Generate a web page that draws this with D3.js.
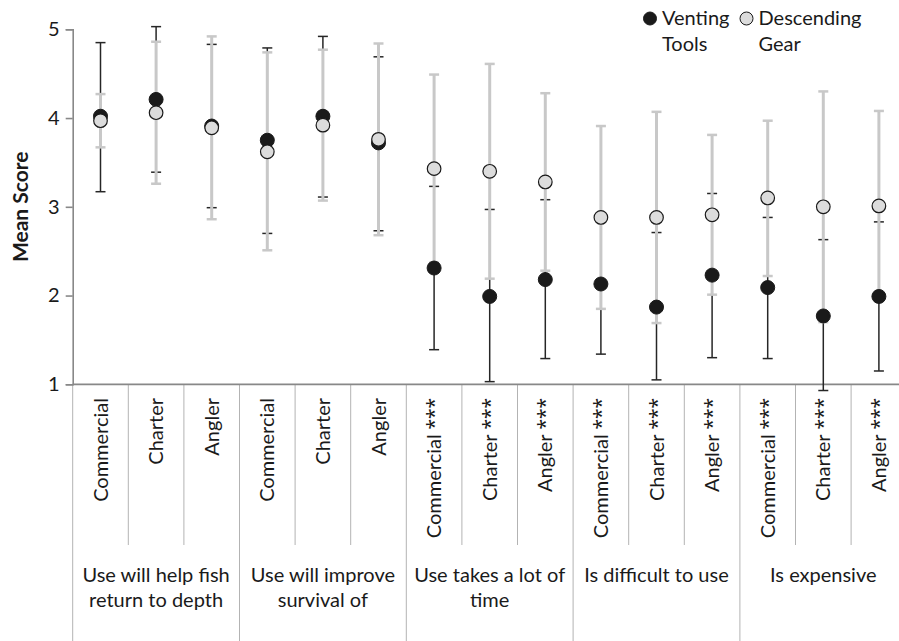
<!DOCTYPE html>
<html><head><meta charset="utf-8">
<script src="https://cdn.jsdelivr.net/npm/d3@7"></script>
<style>body{margin:0;background:#fff}svg{display:block}text{font-family:Lato,"Open Sans",sans-serif;fill:#1a1a1a}</style>
</head><body><svg id="c" width="899" height="641"></svg>
<script>
const groupLabels = [["Use will help fish","return to depth"],["Use will improve","survival of"],["Use takes a lot of","time"],["Is difficult to use"],["Is expensive"]];
const categories = ["Commercial","Charter","Angler","Commercial","Charter","Angler","Commercial ***","Charter ***","Angler ***","Commercial ***","Charter ***","Angler ***","Commercial ***","Charter ***","Angler ***"];
const ventMean = [4.02,4.21,3.91,3.75,4.02,3.72,2.31,1.99,2.18,2.13,1.87,2.23,2.09,1.77,1.99];
const ventLow  = [3.17,3.39,2.99,2.70,3.11,2.73,1.39,1.03,1.29,1.34,1.05,1.30,1.29,0.93,1.15];
const ventHigh = [4.85,5.03,4.83,4.79,4.92,4.69,3.23,2.97,3.08,2.90,2.71,3.15,2.88,2.63,2.83];
const descMean = [3.97,4.06,3.89,3.62,3.92,3.76,3.43,3.40,3.28,2.88,2.88,2.91,3.10,3.00,3.01];
const descLow  = [3.67,3.26,2.86,2.51,3.07,2.68,2.37,2.19,2.28,1.85,1.69,2.01,2.22,1.70,1.94];
const descHigh = [4.27,4.86,4.92,4.74,4.77,4.84,4.49,4.61,4.28,3.91,4.07,3.81,3.97,4.30,4.08];
const yTicks = [1,2,3,4,5];
const legendLabels = [["Venting","Tools"],["Descending","Gear"]];

const svg = d3.select("#c");
const x0 = 72.7, bw = 55.6;
const x = d3.scaleBand().domain(d3.range(categories.length)).range([x0, x0 + bw*categories.length]).padding(0);
const y = d3.scaleLinear().domain([1,5]).range([384.3, 29.3]);
const cx = i => x(i) + x.bandwidth()/2;

// dividers
const dividers = d3.range(categories.length+1);
svg.append("g").selectAll("line").data(dividers).join("line")
  .attr("x1", i => x0 + i*x.bandwidth()).attr("x2", i => x0 + i*x.bandwidth())
  .attr("y1", y(1)).attr("y2", i => i%3===0 ? 641 : 545)
  .attr("stroke", "#b3b3b3").attr("stroke-width", 1);

// axes
const yAxis = svg.append("g").attr("transform", `translate(${x0},0)`)
  .call(d3.axisLeft(y).tickValues(yTicks).tickSize(7).tickPadding(6).tickFormat(d3.format("d")));
yAxis.select(".domain").attr("stroke","#888").attr("stroke-width",1.6);
yAxis.selectAll(".tick line").attr("stroke","#888").attr("stroke-width",1.6);
yAxis.selectAll(".tick text").style("font-size","20px").style("font-family","Lato").attr("fill","#1a1a1a");
svg.append("line").attr("x1",x0).attr("x2",899).attr("y1",y(1)).attr("y2",y(1)).attr("stroke","#888").attr("stroke-width",1.8);

svg.append("text").attr("transform",`translate(28,${y(3)}) rotate(-90)`).attr("text-anchor","middle")
  .style("font-size","21px").style("font-weight","bold").text("Mean Score");

// category labels
const catText = svg.append("g").selectAll("text").data(categories).join("text")
  .attr("transform",(d,i)=>`translate(${cx(i)+7},398) rotate(-90)`).attr("text-anchor","end")
  .style("font-size","20px");
catText.append("tspan").text(d=>d.split(" ")[0]);
catText.filter(d=>d.includes("*")).append("tspan").style("font-family","'Noto Sans'").style("font-size","19px").text(d=>" " + d.split(" ")[1]);

// group labels
groupLabels.forEach((lines,g)=>{
  const gc = x0 + (g*3+1.5)*x.bandwidth();
  lines.forEach((t,k)=>{
    svg.append("text").attr("x",gc).attr("y",582+k*25).attr("text-anchor","middle").style("font-size","20px").text(t);
  });
});

// error bars
function errBars(low, high, color, w){
  const g = svg.append("g");
  categories.forEach((c,i)=>{
    g.append("line").attr("x1",cx(i)).attr("x2",cx(i)).attr("y1",y(low[i])).attr("y2",y(high[i])).attr("stroke",color).attr("stroke-width",w);
    [low[i],high[i]].forEach(v=>g.append("line").attr("x1",cx(i)-5).attr("x2",cx(i)+5).attr("y1",y(v)).attr("y2",y(v)).attr("stroke",color).attr("stroke-width",w===3?2.5:1.5));
  });
}
errBars(ventLow, ventHigh, "#262626", 1.5);
errBars(descLow, descHigh, "#c8c8c8", 3);

svg.append("g").selectAll("circle").data(ventMean).join("circle")
  .attr("cx",(d,i)=>cx(i)).attr("cy",d=>y(d)).attr("r",7).attr("fill","#1a1a1a").attr("stroke","#1a1a1a").attr("stroke-width",1);
svg.append("g").selectAll("circle").data(descMean).join("circle")
  .attr("cx",(d,i)=>cx(i)).attr("cy",d=>y(d)).attr("r",6.8).attr("fill","#dcdcdc").attr("stroke","#1a1a1a").attr("stroke-width",1.2);

// legend
const lg = svg.append("g");
const legendX = [650, 746.5];
legendLabels.forEach((lines,k)=>{
  lg.append("circle").attr("cx",legendX[k]).attr("cy",18.5).attr("r",6.5)
    .attr("fill",k===0?"#1a1a1a":"#dcdcdc").attr("stroke","#1a1a1a").attr("stroke-width",1);
  lines.forEach((t,j)=>lg.append("text").attr("x",legendX[k]+12).attr("y",25+j*26).style("font-size","20px").text(t));
});
</script></body></html>
